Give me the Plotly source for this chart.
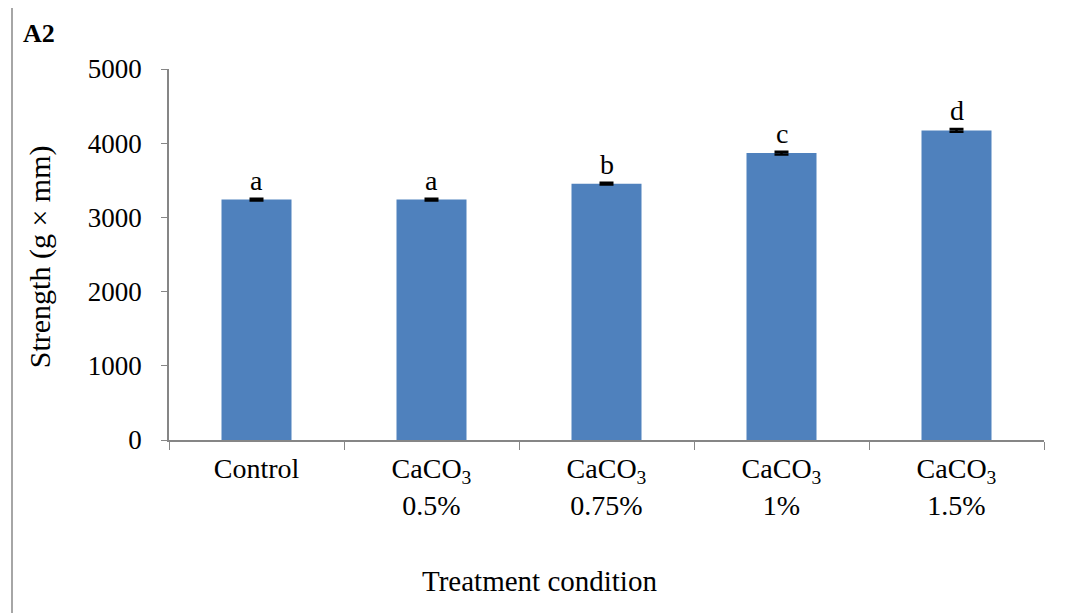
import plotly.graph_objects as go

categories = ["Control", "CaCO<sub>3</sub><br>0.5%", "CaCO<sub>3</sub><br>0.75%",
              "CaCO<sub>3</sub><br>1%", "CaCO<sub>3</sub><br>1.5%"]
strength = [3240, 3240, 3455, 3867, 4172]
errors = [12, 12, 12, 18, 18]
letters = ["a", "a", "b", "c", "d"]
y_ticks = [0, 1000, 2000, 3000, 4000, 5000]

FONT = "Liberation Serif"
W, H = 1068, 613
OFF = 8  # page body margin offset
# target plot area in screenshot pixels
PL, PR, PT, PB = 169, 1044, 68.5, 440
ml, mt = PL - OFF, PT - OFF
mr, mb = W - (PR - OFF), H - (PB - OFF)
pw, ph = PR - PL, PB - PT


def px(x):
    return (x - PL) / pw


def py(y):
    return (PB - y) / ph


fig = go.Figure()
fig.add_trace(go.Bar(
    x=categories, y=strength, width=0.4,
    marker=dict(color="#4F81BD", line=dict(width=0)),
    error_y=dict(type="data", array=errors, visible=True, color="black",
                 thickness=2.5, width=7),
))

for c, v, l in zip(categories, strength, letters):
    fig.add_annotation(x=c, y=v, text=l, showarrow=False, yanchor="bottom",
                       yshift=2, font=dict(family=FONT, size=28, color="black"))

fig.add_annotation(xref="paper", yref="paper", x=px(21), y=py(33),
                   text="<b>A2</b>", showarrow=False, xanchor="left", yanchor="middle",
                   font=dict(family=FONT, size=26, color="black"))
fig.add_annotation(xref="paper", yref="paper", x=px(539), y=py(581),
                   text="Treatment condition", showarrow=False, xanchor="center", yanchor="middle",
                   font=dict(family=FONT, size=29, color="black"))
fig.add_annotation(xref="paper", yref="paper", x=px(40), y=py(257),
                   text="Strength (g × mm)", showarrow=False, textangle=-90,
                   xanchor="center", yanchor="middle",
                   font=dict(family=FONT, size=30, color="black"))

# outer frame lines (left and top)
fig.add_shape(type="line", xref="paper", yref="paper",
              x0=px(12), x1=px(12), y0=py(3), y1=py(700),
              line=dict(color="#A6A6A6", width=2))
fig.add_shape(type="line", xref="paper", yref="paper",
              x0=px(12), x1=px(1100), y0=py(3), y1=py(3),
              line=dict(color="#A6A6A6", width=2))

fig.update_layout(
    width=W, height=H,
    margin=dict(l=ml, r=mr, t=mt, b=mb),
    plot_bgcolor="white", paper_bgcolor="white",
    showlegend=False,
    font=dict(family=FONT, size=28, color="black"),
    bargap=0.6,
)
fig.update_xaxes(
    showline=True, linecolor="#868686", linewidth=1.5,
    ticks="outside", tickson="boundaries", ticklen=8, tickcolor="#868686",
    tickfont=dict(family=FONT, size=28, color="black"),
    ticklabelstandoff=3,
    showgrid=False, zeroline=False,
)
fig.update_yaxes(
    range=[0, 5000], tickvals=y_ticks, ticktext=[str(t) for t in y_ticks],
    showline=True, linecolor="#868686", linewidth=1.5,
    ticks="outside", ticklen=6, tickcolor="#868686",
    tickfont=dict(family=FONT, size=27, color="black"),
    ticklabelstandoff=14,
    showgrid=False, zeroline=False,
)

fig.write_html("out.html")
